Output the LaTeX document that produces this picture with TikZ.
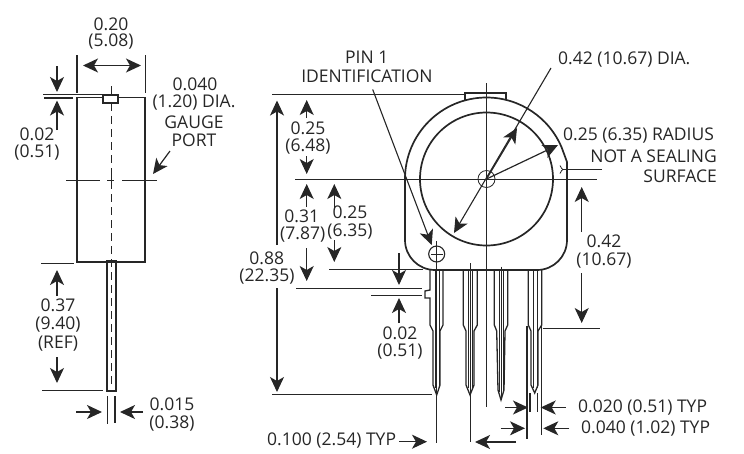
\documentclass[tikz,border=0pt]{standalone}
\usepackage{fontspec}
\setmainfont{Open Sans}
\usetikzlibrary{arrows.meta}
\colorlet{colorInk}{black!85}
\tikzset{
   every path/.style={>={Stealth[length=15pt,width=14pt,inset=4pt]}},
   obj/.style={color=colorInk,line width=1.7pt},
   pin/.style={color=colorInk,line width=1.3pt},
   thn/.style={color=colorInk,line width=0.8pt},
   ext/.style={color=colorInk,line width=1.1pt},
   dim/.style={->,color=colorInk,line width=1.2pt},
   lbl/.style={color=colorInk,inner sep=0pt,font=\fontsize{17.5}{20}\selectfont},
}
\begin{document}
\begin{tikzpicture}[x=1pt,y=1pt,yscale=-1]
        \useasboundingbox (0,0) rectangle (744,453);

        % side view
        \draw[obj] (118,97.5) -- (145,97.5) -- (145,262) -- (77,262) -- (77,97.5) -- (103,97.5);
        \draw[obj] (103,95) rectangle (118,103);
        \draw[obj] (107,260.5) rectangle (116,391);
        \draw[obj,line width=3pt] (107,261) -- (116,261);
        \draw[thn] (111.5,86) -- (111.5,95);
        \draw[ext,dashed,dash pattern=on 8pt off 5pt,line width=1.4pt] (111.5,103) -- (111.5,388);
        \draw[ext] (66,180.5) -- (100,180.5) (107,180.5) -- (114,180.5) (122,180.5) -- (157,180.5);
        \draw[ext] (111.5,176) -- (111.5,184);

        \draw[ext] (77,55) -- (77,92.5);
        \draw[ext] (145.5,55) -- (145.5,92.5);
        \draw[dim,<->] (83,65.5) -- (141,65.5);
        \node[lbl] (top1) at (111,24) {0.20};
        \node[lbl] (top2) at (111,42) {(5.08)};

        \draw[ext] (43,94.5) -- (102,94.5);
        \draw[ext] (44,98) -- (73,98);
        \draw[dim] (57,66) -- (57,92);
        \draw[dim] (57,130) -- (57,100.5);
        \node[lbl] (wall1) at (37,134) {0.02};
        \node[lbl] (wall2) at (37,153) {(0.51)};

        \node[lbl] (port1) at (195,84) {0.040};
        \node[lbl] (port2) at (194,103) {(1.20) DIA.};
        \node[lbl] (port3) at (194,122) {GAUGE};
        \node[lbl] (port4) at (194,140) {PORT};
        \draw[dim] (170,151) -- (153,174);

        \draw[ext] (41,263.5) -- (73.5,263.5);
        \draw[ext] (42,390.5) -- (103,390.5);
        \draw[dim] (57,296) -- (57,270);
        \draw[dim] (57,357) -- (57,383);
        \node[lbl] (ref1) at (58,305) {0.37};
        \node[lbl] (ref2) at (58,325) {(9.40)};
        \node[lbl] (ref3) at (58,344) {(REF)};

        \draw[ext] (107.5,396) -- (107.5,424);
        \draw[ext] (115,396) -- (115,423);
        \draw[dim] (76,412) -- (102,412);
        \draw[dim] (143,412) -- (120,412);
        \node[lbl] (lead1) at (172,404) {0.015};
        \node[lbl] (lead2) at (172,424) {(0.38)};

        % front view
        \coordinate (cen) at (486.5,179);
        \draw[obj] (405,179) arc[start angle=180,end angle=337.5,radius=81.5] -- (567,162) -- (567,240)
           arc[start angle=0,end angle=90,radius=30] -- (435,270)
           arc[start angle=90,end angle=180,radius=30] -- cycle;
        \draw[obj] (cen) circle[radius=66.5];
        \draw[thn] (cen) circle[radius=8.5];
        \draw[obj] (465,100) -- (465,93) -- (506,93) -- (506,100);

        \draw[thn] (486.5,83) -- (486.5,407);
        \draw[thn] (295,179.5) -- (597,179.5);

        \draw[thn] (272,94) -- (465,94);
        \draw[ext,<-] (454,233) -- (551,68);
        \draw[dim] (cen) -- (517,128);
        \draw[dim] (cen) -- (558,145);
        \node[lbl,anchor=west] (dia) at (558,60) {0.42 (10.67) DIA.};
        \node[lbl,anchor=west] (rad1) at (563,136) {0.25 (6.35) RADIUS};
        \node[lbl,anchor=east] (rad2) at (717,156) {NOT A SEALING};
        \node[lbl,anchor=east] (rad3) at (717,176) {SURFACE};
        \draw[thn] (602,169.5) -- (563,169.5);
        \draw[thn] (560,165.5) .. controls (561,168) and (562,169) .. (563,169.5) .. controls (562,170) and (561,171) .. (560,173.5);

        \draw[ext,<-] (431.7,245) -- (372.7,89.5);
        \node[lbl] (id1) at (366.7,57) {PIN 1};
        \node[lbl] (id2) at (367,76) {IDENTIFICATION};
        \draw[ext] (436.7,254) circle[radius=8];
        \draw[thn] (431,254) -- (442.5,254);

        % pins
        \draw[pin] (430,270) -- (430,290) -- (425,291) -- (425,298) -- (430,298) -- (430,325) -- (433,331) -- (433,385) -- (436.7,395) -- (440,385) -- (440,331) -- (443,325) -- (443,270);
        \draw[pin,line width=0.8pt] (435,270) -- (435,388) (439.5,270) -- (439.5,388);
        \draw[thn] (436.7,241) -- (436.7,443);

        \draw[pin] (463.3,270) -- (463.3,325) -- (466,331) -- (466,385) -- (470,395) -- (474,385) -- (474,331) -- (477.3,325) -- (477.3,270);
        \draw[pin,line width=0.8pt] (468,270) -- (468,388) (472.5,270) -- (472.5,388);
        \draw[thn] (470,263) -- (470,441.5);

        \draw[pin] (494.3,270) -- (494.3,325) -- (496.7,331) -- (498,390) -- (501,400) -- (504,390) -- (505,331) -- (507.7,325) -- (507.7,270);
        \draw[pin,line width=0.8pt] (499.5,270) -- (499.5,392) (503,270) -- (503,392);
        \draw[thn] (501,266.5) -- (501,400);

        \draw[pin] (528.3,270) -- (528.3,325) (541.7,270) -- (541.7,325) -- (538,331) -- (538,385) -- (534.7,393) -- (531,385) -- (531,331) -- (528.3,325);
        \draw[pin,line width=0.8pt] (533,270) -- (533,388) (537,270) -- (537,388);
        \draw[ext] (527,326) -- (527,438.5);
        \draw[ext] (541.7,326) -- (541.7,435);
        \draw[ext] (530,393) -- (530,412);
        \draw[ext] (537.3,393) -- (537.3,412);

        % dimensions, left of the front view
        \draw[dim] (306.7,118) -- (306.7,100);
        \draw[dim] (306.7,156) -- (306.7,174);
        \node[lbl] (up1) at (308,128) {0.25};
        \node[lbl] (up2) at (308,147) {(6.48)};

        \draw[dim] (306.7,207) -- (306.7,184);
        \draw[dim] (306.7,248) -- (306.7,281);
        \node[lbl] (low1) at (301.7,216) {0.31};
        \node[lbl] (low2) at (302.7,235) {(7.87)};

        \draw[dim] (334.3,210) -- (334.3,184);
        \draw[dim] (334.3,240) -- (334.3,262);
        \node[lbl] (mid1) at (350,212.5) {0.25};
        \node[lbl] (mid2) at (350,231.5) {(6.35)};

        \draw[dim] (277,245) -- (277,100.5);
        \draw[dim] (277,288) -- (277,392);
        \node[lbl] (tot1) at (266.7,258) {0.88};
        \node[lbl] (tot2) at (267,277) {(22.35)};
        \draw[ext] (272,394.5) -- (431.7,394.5);

        \draw[ext] (329,269.5) -- (423,269.5);
        \draw[ext] (296,288.5) -- (421.7,288.5);
        \draw[ext] (371,295.5) -- (421.7,295.5);
        \draw[dim] (399,253) -- (399,285);
        \draw[dim] (399,323) -- (399,298);
        \node[lbl] (gap1) at (400,333) {0.02};
        \node[lbl] (gap2) at (400,352) {(0.51)};

        % dimensions, right of the front view
        \draw[dim] (581.7,232) -- (581.7,187);
        \draw[dim] (581.7,273) -- (581.7,323);
        \draw[ext] (542.7,328.5) -- (600,328.5);
        \node[lbl] (len1) at (604,241) {0.42};
        \node[lbl] (len2) at (604,261) {(10.67)};

        \draw[dim] (505,407.5) -- (528,407.5);
        \draw[dim] (565.7,407.5) -- (540.7,407.5);
        \draw[dim] (500.7,428.3) -- (525,428.3);
        \draw[dim] (569.3,428.3) -- (543.3,428.3);
        \node[lbl,anchor=west] (typ1) at (578,408) {0.020 (0.51) TYP};
        \node[lbl,anchor=west] (typ2) at (581,428.5) {0.040 (1.02) TYP};

        \node[lbl,anchor=west] (pitch) at (267,441) {0.100 (2.54) TYP};
        \draw[dim] (399,441.7) -- (427,441.7);
        \draw[dim] (516,442) -- (475,442);

      \end{tikzpicture}
\end{document}
